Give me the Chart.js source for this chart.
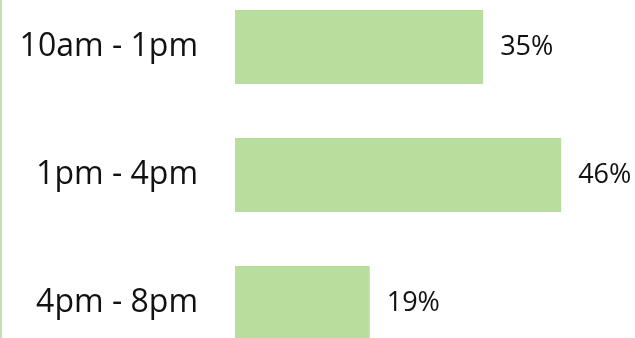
<!DOCTYPE html>
<html>
<head>
<meta charset="utf-8">
<script src="https://cdn.jsdelivr.net/npm/chart.js@4/dist/chart.umd.min.js"></script>
<style>
  html, body { margin: 0; padding: 0; background: #fff; overflow: hidden; }
  #canvas { position: absolute; left: 0; top: -17px; }
</style>
</head>
<body>
<canvas id="canvas" width="635" height="384"></canvas>
<script>
var labels = ['10am - 1pm', '1pm - 4pm', '4pm - 8pm'];
var shares = [35, 46, 19];

// percent text to the right of each bar
var valueLabels = {
  id: 'valueLabels',
  afterDatasetsDraw: function (chart) {
    var ctx = chart.ctx;
    var meta = chart.getDatasetMeta(0);
    ctx.save();
    ctx.font = '27px "Open Sans"';
    ctx.fillStyle = '#111';
    ctx.textAlign = 'left';
    ctx.textBaseline = 'middle';
    meta.data.forEach(function (bar, i) {
      ctx.fillText(shares[i] + '%', bar.x + 17, bar.y);
    });
    // thin green rule down the left edge
    ctx.fillStyle = '#c5e0b4';
    ctx.fillRect(0, 0, 2, chart.height);
    ctx.restore();
  }
};

var ctx = document.getElementById('canvas').getContext('2d');
var config = {
  type: 'bar',
  data: {
    labels: labels,
    datasets: [{
      label: 'Share',
      data: shares,
      backgroundColor: '#b9dd9c',
      borderWidth: 0,
      categoryPercentage: 1,
      barPercentage: 0.578
    }]
  },
  options: {
    indexAxis: 'y',
    responsive: false,
    animation: false,
    layout: { padding: { left: 0, right: 10, top: 0, bottom: 0 } },
    plugins: {
      legend: { display: false },
      tooltip: { enabled: false }
    },
    scales: {
      x: {
        display: false,
        min: 0,
        max: 55
      },
      y: {
        grid: { display: false, drawTicks: false },
        border: { display: false },
        ticks: {
          color: '#111',
          font: { family: 'Open Sans', size: 32 },
          padding: 37
        },
        afterFit: function (scale) {
          scale.width = 235;
          // tick padding should not shrink the bar area vertically
          scale.paddingTop = 0;
          scale.paddingBottom = 0;
        }
      }
    }
  },
  plugins: [valueLabels]
};
var chart = new Chart(ctx, config);
</script>
</body>
</html>
